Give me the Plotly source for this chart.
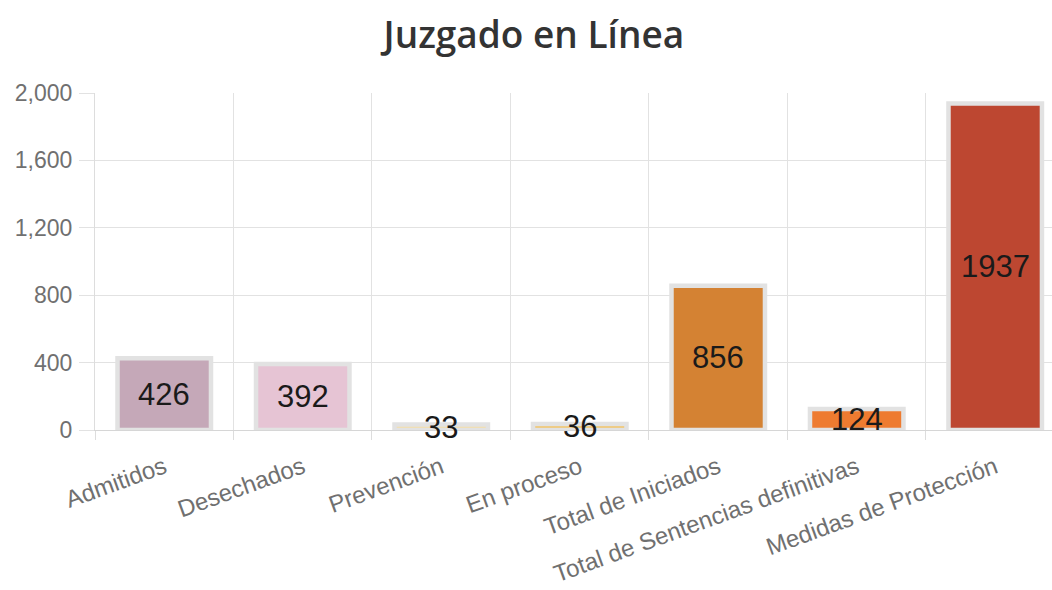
import plotly.graph_objects as go

categories = ["Admitidos", "Desechados", "Prevención", "En proceso",
              "Total de Iniciados", "Total de Sentencias definitivas",
              "Medidas de Protección"]
values = [426, 392, 33, 36, 856, 124, 1937]
bar_colors = ["#c5a8b8", "#e6c4d4", "#f4dea6", "#f2c468",
              "#d48233", "#ee7b30", "#bd4731"]
y_ticks = [0, 400, 800, 1200, 1600, 2000]

fig = go.Figure()
fig.add_trace(go.Bar(
    x=categories,
    y=values,
    width=0.675,
    marker=dict(color=bar_colors, line=dict(color="#e2e2e2", width=4.5)),
    hoverinfo="x+y",
))

# value labels centred on each bar
for c, v in zip(categories, values):
    fig.add_annotation(
        x=c, y=v / 2, text=str(v), showarrow=False,
        font=dict(family="Liberation Sans, Arial", size=31, color="#1a1a1a"),
        yanchor="middle", xanchor="center",
    )

fig.update_layout(
    width=1052, height=590,
    margin=dict(l=95, r=0, t=93, b=160),
    paper_bgcolor="white", plot_bgcolor="white",
    showlegend=False,
    title=dict(
        text="Juzgado en Línea",
        x=0.5075, xanchor="center", y=0.94, yanchor="middle",
        font=dict(family="Open Sans", size=37, color="#333333", weight=600),
    ),
    xaxis=dict(
        type="category",
        range=[-0.5, 6.41],
        tickson="boundaries",
        ticks="outside", ticklen=9, tickcolor="#dddddd",
        showgrid=True, gridcolor="#e2e2e2", gridwidth=1,
        showline=True, linecolor="#d6d6d6", linewidth=1,
        tickangle=-20,
        ticklabelstandoff=13,
        tickfont=dict(family="Liberation Sans, Arial", size=24, color="#707070"),
    ),
    yaxis=dict(
        range=[0, 2000],
        tickvals=y_ticks,
        tickformat=",",
        ticks="outside", ticklen=15, tickcolor="#e2e2e2",
        ticklabelstandoff=2,
        showgrid=True, gridcolor="#e2e2e2", gridwidth=1,
        zeroline=True, zerolinecolor="#d6d6d6", zerolinewidth=1,
        showline=True, linecolor="#dddddd", linewidth=1,
        tickfont=dict(family="Liberation Sans, Arial", size=23, color="#707070"),
    ),
)

fig.write_html("out.html")
